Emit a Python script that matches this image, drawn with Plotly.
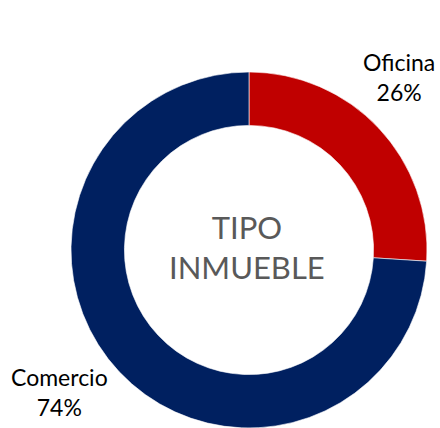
import plotly.graph_objects as go

categories = ["Oficina", "Comercio"]
values = [26, 74]
colors = ["#C00000", "#002060"]
center_title = ["TIPO", "INMUEBLE"]

total = sum(values)
pct = [f"{round(v / total * 100)}%" for v in values]

fig = go.Figure(go.Pie(
    labels=categories,
    values=values,
    hole=0.70,
    sort=False,
    direction="clockwise",
    rotation=0,
    marker=dict(colors=colors, line=dict(color="white", width=0.6)),
    textinfo="none",
    hoverinfo="label+percent",
    domain=dict(x=[71 / 440, 427 / 440], y=[0, (428 - 72) / 428]),
    showlegend=False,
))

font = "Lato, 'Open Sans', sans-serif"
label_pos = {"Oficina": (399, 77), "Comercio": (60, 392)}
for cat, p in zip(categories, pct):
    px, py = label_pos[cat]
    fig.add_annotation(
        x=px / 440, y=1 - py / 428, xref="paper", yref="paper",
        text=f"{cat}<br>{p}", showarrow=False,
        font=dict(family=font, size=23, color="#000000"),
        align="center", xanchor="center", yanchor="middle",
    )

fig.add_annotation(
    x=247 / 440, y=1 - 247 / 428, xref="paper", yref="paper",
    text="<br>".join(center_title), showarrow=False,
    font=dict(family=font, size=31, color="#595959"),
    align="center", xanchor="center", yanchor="middle",
)

fig.update_layout(
    width=440, height=428,
    margin=dict(l=0, r=0, t=0, b=0),
    paper_bgcolor="white", plot_bgcolor="white",
)

fig.write_html(
    "out.html",
    config={"displayModeBar": False},
    post_script="document.body.style.margin='0';",
)
